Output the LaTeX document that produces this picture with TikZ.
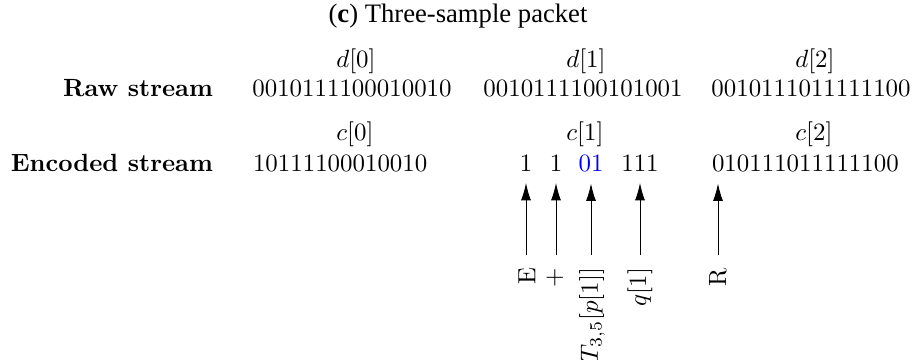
\documentclass[tikz,border=0pt]{standalone}
\usepackage{fontspec}
\newfontfamily\titlefont{Liberation Serif}
\usetikzlibrary{arrows.meta}
\begin{document}
\begin{tikzpicture}[x=0.4016pt,y=-0.4016pt,
  txt/.style={inner sep=0pt,outer sep=0pt,font=\fontsize{10}{12}\selectfont},
  bits/.style={txt,anchor=base},
  bitsw/.style={txt,anchor=base west},
  rowlbl/.style={txt,anchor=base east,font=\fontsize{10}{12}\selectfont\bfseries},
  idx/.style={txt,anchor=base},
  rot/.style={txt,rotate=90,anchor=east},
  arr/.style={-{Latex[length=7pt,width=4pt]},line width=0.4pt,shorten >=4.4pt}]
\useasboundingbox (0,0) rectangle (915,360);
% title
\node[txt,anchor=base,font=\titlefont\fontsize{10.7}{12}\selectfont] (title) at (458,23) {(\textbf{c}) Three-sample packet};
% raw stream row
\node[rowlbl] (raw) at (213,97) {Raw stream};
\node[idx] (d0) at (356,68) {$d[0]$};
\node[idx] (d1) at (586,68) {$d[1]$};
\node[idx] (d2) at (815,68) {$d[2]$};
\node[bits] (r0) at (352,97) {0010111100010010};
\node[bits] (r1) at (583,97) {0010111100101001};
\node[bits] (r2) at (811,97) {0010111011111100};
% encoded stream row
\node[rowlbl] (enc) at (213,172) {Encoded stream};
\node[idx] (c0) at (355,141) {$c[0]$};
\node[idx] (c1) at (585,141) {$c[1]$};
\node[idx] (c2) at (814,141) {$c[2]$};
\node[bitsw] (e0) at (253,172) {10111100010010};
\node[bits] (b1) at (526,172) {1};
\node[bits] (b2) at (556,172) {1};
\node[bits,text=blue] (b3) at (591,172) {01};
\node[bits] (b4) at (640,172) {111};
\node[bitsw] (e2) at (712,172) {010111011111100};
% labels under arrows
\node[rot] (lE) at (527,268) {E};
\node[rot] (lP) at (555,268) {$+$};
\node[rot] (lT) at (592,268) {$T_{3,5}[p[1]]$};
\node[rot] (lQ) at (640,268) {$q[1]$};
\node[rot] (lR) at (718,268) {R};
% arrow tails
\coordinate (t1) at (526,255);
\coordinate (t2) at (556,255);
\coordinate (t3) at (591,255);
\coordinate (t4) at (640,255);
\coordinate (t5) at (718,255);
\draw[arr] (t1) -- (t1 |- b1.south);
\draw[arr] (t2) -- (t2 |- b2.south);
\draw[arr] (t3) -- (t3 |- b3.south);
\draw[arr] (t4) -- (t4 |- b4.south);
\draw[arr] (t5) -- (t5 |- e2.south);
\end{tikzpicture}
\end{document}
